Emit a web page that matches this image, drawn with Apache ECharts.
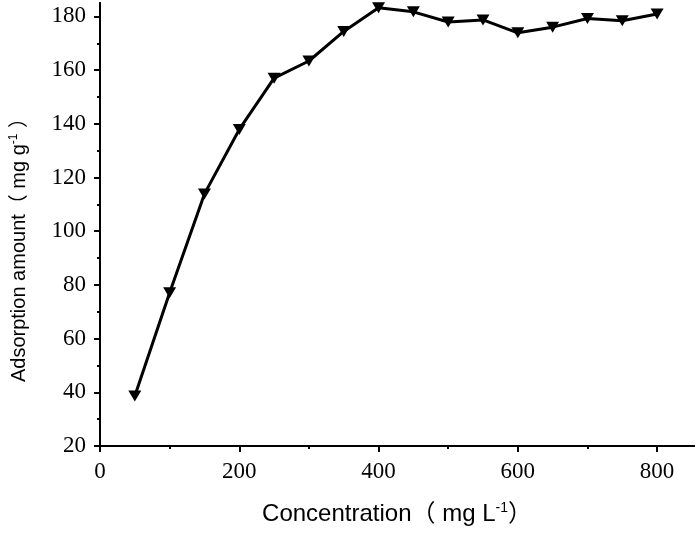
<!DOCTYPE html>
<html>
<head>
<meta charset="utf-8">
<script src="https://cdn.jsdelivr.net/npm/echarts@6/dist/echarts.min.js"></script>
<style>
  html, body { margin: 0; padding: 0; background: #fff; }
  #chart { width: 698px; height: 533px; }
</style>
</head>
<body>
<div id="chart"></div>
<script>
const concentration = [50, 100, 150, 200, 250, 300, 350, 400, 450, 500, 550, 600, 650, 700, 750, 800]
const adsorption = [38.6, 77.1, 113.9, 137.9, 157, 163.4, 174.4, 183.2, 181.7, 177.9, 178.7, 173.9, 176, 179.2, 178.4, 180.9]

const xMajorTicks = [0, 200, 400, 600, 800]
const xMinorTicks = [100, 300, 500, 700]
const yMajorTicks = [20, 40, 60, 80, 100, 120, 140, 160, 180]
const yMinorTicks = [30, 50, 70, 90, 110, 130, 150, 170]

const chart = echarts.init(document.getElementById('chart'))

const serif = '"Liberation Serif", "Times New Roman", serif'
const sans = '"Liberation Sans", Arial, "Noto Sans CJK SC", sans-serif'

const baseX = {
  type: 'value',
  min: 0,
  max: 853,
  position: 'bottom',
  splitLine: { show: false },
  axisLine: { lineStyle: { color: '#000', width: 2 } },
}
const baseY = {
  type: 'value',
  min: 20,
  max: 185,
  position: 'left',
  splitLine: { show: false },
  axisLine: { lineStyle: { color: '#000', width: 2 } },
}

chart.setOption({
  animation: false,
  backgroundColor: '#fff',
  grid: { left: 100, right: 4, top: 3, bottom: 87, outerBoundsMode: 'none' },
  xAxis: [
    {
      ...baseX,
      name: 'Concentration（ mg L{sup|-1}）',
      nameLocation: 'middle',
      nameGap: 55,
      nameTextStyle: {
        fontFamily: sans,
        fontSize: 24,
        color: '#000',
        rich: {
          sup: { fontFamily: sans, fontSize: 14, color: '#000', padding: [0, 0, 12, 0] },
        },
      },
      axisTick: { customValues: xMajorTicks, length: 6, lineStyle: { color: '#000', width: 2 } },
      axisLabel: {
        customValues: xMajorTicks,
        margin: 14,
        fontFamily: serif,
        fontSize: 23,
        color: '#000',
      },
    },
    {
      ...baseX,
      axisTick: { customValues: xMinorTicks, length: 3, lineStyle: { color: '#000', width: 2 } },
      axisLabel: { show: false },
    },
  ],
  yAxis: [
    {
      ...baseY,
      name: 'Adsorption amount（ mg g{sup|-1} ）',
      nameLocation: 'middle',
      nameGap: 70,
      nameTextStyle: {
        fontFamily: sans,
        fontSize: 20,
        color: '#000',
        padding: [0, 41, 0, 0],
        rich: {
          sup: { fontFamily: sans, fontSize: 12, color: '#000', padding: [0, 0, 10, 0] },
        },
      },
      axisTick: { customValues: yMajorTicks, length: 6, lineStyle: { color: '#000', width: 2 } },
      axisLabel: {
        customValues: yMajorTicks,
        margin: 14,
        fontFamily: serif,
        fontSize: 23,
        color: '#000',
      },
    },
    {
      ...baseY,
      axisTick: { customValues: yMinorTicks, length: 3, lineStyle: { color: '#000', width: 2 } },
      axisLabel: { show: false },
    },
  ],
  series: [
    {
      type: 'line',
      data: concentration.map((c, i) => [c, adsorption[i]]),
      xAxisIndex: 0,
      yAxisIndex: 0,
      symbol: 'triangle',
      symbolRotate: 180,
      symbolSize: [13, 11],
      lineStyle: { color: '#000', width: 3 },
      itemStyle: { color: '#000' },
    },
  ],
})
</script>
</body>
</html>
